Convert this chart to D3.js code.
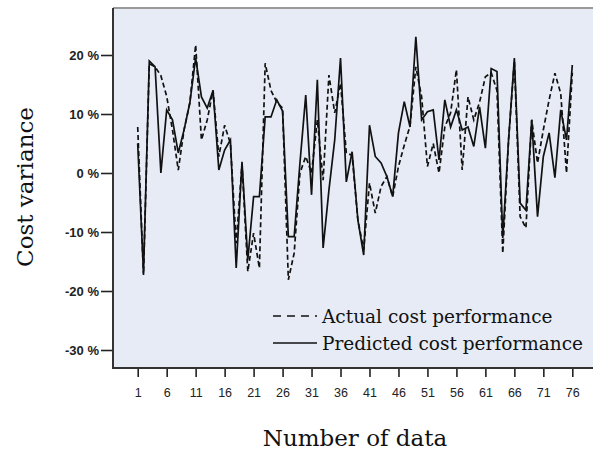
<!DOCTYPE html>
<html>
<head>
<meta charset="utf-8">
<script src="https://cdn.jsdelivr.net/npm/d3@7"></script>
<style>
  body { margin: 0; background: #fff; }
  svg { display: block; }
</style>
</head>
<body>
<div id="chart"></div>
<script>
// --- Data (percent) ---
const actual = [
  7.8, -17.3, 18.5, 18, 16.5, 13, 7.3, 0.5, 7.3, 11.9,
  21.7, 5.6, 9, 14, 2.8, 8.1, 5, -11.9, 1.5, -16.7,
  -10.2, -16.1, 18.6, 14, 12, 11, -18.1, -13.6, 0, 2.8,
  0, 9, -1.2, 16.6, 10.2, 15.2, 3.4, 3, -8, -13,
  -1.7, -6.8, -2.3, -0.6, -4, 1.1, 4.7, 8, 18, 12.9,
  1.1, 5, 0, 7.8, 10.2, 17.5, 0.5, 12.9, 9, 12,
  16.3, 17, 14, -13.6, 5.6, 19, -7.4, -9.3, 9, 1.7,
  7.3, 12.4, 16.9, 13.5, 0, 17
];
const predicted = [
  5, -17, 19, 18, 0, 10.7, 9, 3.4, 7.3, 11.9,
  19.5, 12.9, 11, 14, 0.5, 3.9, 5.6, -16.1, 1.9, -14.7,
  -4, -4, 9.5, 9.5, 12.4, 10.5, -10.8, -10.8, 1.7, 13.2,
  -3.7, 15.8, -12.7, -2.9, 5.6, 19.5, -1.5, 3.6, -8, -13.9,
  8.1, 2.8, 1.7, -0.6, -4, 6.8, 12.1, 7.8, 23.1, 9,
  10.4, 10.7, 2.2, 12.4, 7.8, 10.7, 7.3, 7.8, 4.5, 11.2,
  4.2, 17.7, 17.2, -11, 5.6, 19.5, -5.1, -6.3, 9, -7.4,
  2.8, 6.8, -0.8, 10.7, 5.6, 18.3
];
const xTicks = [1, 6, 11, 16, 21, 26, 31, 36, 41, 46, 51, 56, 61, 66, 71, 76];
const yTicks = [20, 10, 0, -10, -20, -30];
const seriesNames = ["Actual cost performance", "Predicted cost performance"];

// --- Layout ---
const width = 593, height = 452;
const frame = { left: 113, top: 8, right: 600, bottom: 368 };

const svg = d3.select("#chart").append("svg")
  .attr("width", width)
  .attr("height", height);

// scales
const x = d3.scaleLinear().domain([1, 76]).range([137.7, 572.3]);
const y = d3.scaleLinear().domain([-30, 20]).range([350, 55]);

// plot background
svg.append("rect")
  .attr("x", frame.left)
  .attr("y", frame.top)
  .attr("width", frame.right - frame.left)
  .attr("height", frame.bottom - frame.top)
  .attr("fill", "#e6ebf5");

// top border (gray)
svg.append("line")
  .attr("x1", frame.left).attr("x2", frame.right)
  .attr("y1", frame.top).attr("y2", frame.top)
  .attr("stroke", "#9a9a9a").attr("stroke-width", 2);

// lines
const line = (vals) => d3.line()
  .x((d, i) => x(i + 1))
  .y((d) => y(d))(vals);

svg.append("path")
  .attr("d", line(actual))
  .attr("fill", "none")
  .attr("stroke", "#111")
  .attr("stroke-width", 1.7)
  .attr("stroke-dasharray", "5,3");

svg.append("path")
  .attr("d", line(predicted))
  .attr("fill", "none")
  .attr("stroke", "#111")
  .attr("stroke-width", 1.7);

// y axis
const yAxis = svg.append("g")
  .attr("transform", `translate(${frame.left},0)`)
  .call(d3.axisLeft(y).tickValues(yTicks).tickSize(12).tickPadding(2).tickFormat((d) => `${d} %`));
yAxis.select(".domain").remove();
yAxis.selectAll(".tick line").attr("stroke", "#222").attr("stroke-width", 1.6);
yAxis.selectAll("text")
  .attr("font-family", "Liberation Sans, Arial, sans-serif")
  .attr("font-size", "13px")
  .attr("font-weight", "bold")
  .attr("fill", "#222");

// x axis
const xAxis = svg.append("g")
  .attr("transform", `translate(0,${frame.bottom})`)
  .call(d3.axisBottom(x).tickValues(xTicks).tickSize(9).tickFormat(d3.format("d")));
xAxis.select(".domain").remove();
xAxis.selectAll(".tick line").attr("stroke", "#222").attr("stroke-width", 1.6);
xAxis.selectAll("text")
  .attr("y", 29)
  .attr("dy", 0)
  .attr("font-family", "Liberation Sans, Arial, sans-serif")
  .attr("font-size", "12.5px")
  .attr("fill", "#222");

// left & bottom frame lines
svg.append("line")
  .attr("x1", frame.left).attr("x2", frame.left)
  .attr("y1", frame.top).attr("y2", frame.bottom + 1)
  .attr("stroke", "#333").attr("stroke-width", 2);
svg.append("line")
  .attr("x1", frame.left).attr("x2", frame.right)
  .attr("y1", frame.bottom).attr("y2", frame.bottom)
  .attr("stroke", "#333").attr("stroke-width", 2);

// axis titles
svg.append("text")
  .attr("x", 355).attr("y", 446)
  .attr("text-anchor", "middle")
  .attr("font-family", "DejaVu Serif, serif")
  .attr("font-size", "23px")
  .attr("fill", "#111")
  .text("Number of data");

svg.append("text")
  .attr("transform", "translate(33,187) rotate(-90)")
  .attr("text-anchor", "middle")
  .attr("font-family", "DejaVu Serif, serif")
  .attr("font-size", "23px")
  .attr("fill", "#111")
  .text("Cost variance");

// legend
const legend = svg.append("g").attr("transform", "translate(273,316)");
seriesNames.forEach((name, i) => {
  const g = legend.append("g").attr("transform", `translate(0,${i * 27})`);
  g.append("line")
    .attr("x1", 0).attr("x2", 44)
    .attr("stroke", "#111")
    .attr("stroke-width", 1.7)
    .attr("stroke-dasharray", i === 0 ? "8,6" : null);
  g.append("text")
    .attr("x", 49).attr("y", 7)
    .attr("font-family", "DejaVu Serif, serif")
    .attr("font-size", "18.5px")
    .attr("fill", "#111")
    .text(name);
});
</script>
</body>
</html>
